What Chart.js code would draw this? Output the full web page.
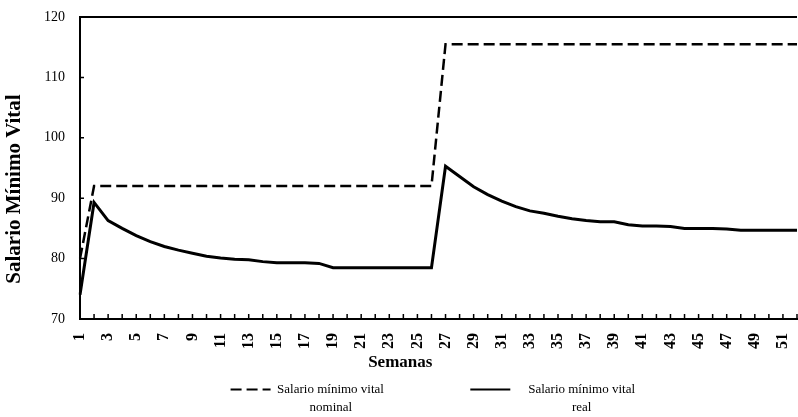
<!DOCTYPE html>
<html>
<head>
<meta charset="utf-8">
<script src="https://cdn.jsdelivr.net/npm/chart.js@4/dist/chart.umd.min.js"></script>
<style>
  html, body { margin: 0; padding: 0; background: #fff; }
  #grafico { width: 798px; height: 417px; }
</style>
</head>
<body>
<div id="grafico"><canvas id="grafico-salario"></canvas></div>
<script>
// Semanas (eje x)
const semanas = ['1','2','3','4','5','6','7','8','9','10','11','12','13','14','15','16','17','18','19','20',
                 '21','22','23','24','25','26','27','28','29','30','31','32','33','34','35','36','37','38','39','40',
                 '41','42','43','44','45','46','47','48','49','50','51','52'];

// Salario mínimo vital nominal
const nominal = [80, 92, 92, 92, 92, 92, 92, 92, 92, 92, 92, 92, 92, 92, 92, 92, 92, 92, 92, 92,
                 92, 92, 92, 92, 92, 92, 115.5, 115.5, 115.5, 115.5, 115.5, 115.5, 115.5, 115.5, 115.5, 115.5, 115.5, 115.5, 115.5, 115.5,
                 115.5, 115.5, 115.5, 115.5, 115.5, 115.5, 115.5, 115.5, 115.5, 115.5, 115.5, 115.5];

// Salario mínimo vital real
const real = [74, 89.3, 86.3, 85.0, 83.8, 82.8, 82.0, 81.4, 80.9, 80.4, 80.1, 79.9, 79.8, 79.5, 79.3, 79.3, 79.3, 79.2, 78.5, 78.5,
              78.5, 78.5, 78.5, 78.5, 78.5, 78.5, 95.3, 93.6, 91.9, 90.6, 89.5, 88.6, 87.9, 87.5, 87.0, 86.6, 86.3, 86.1, 86.1, 85.6,
              85.4, 85.4, 85.3, 85.0, 85.0, 85.0, 84.9, 84.7, 84.7, 84.7, 84.7, 84.7];

// leyenda en dos renglones (el segundo centrado con espacios)
const leyendaNominal = ['Salario mínimo vital', '          nominal'];
const leyendaReal = ['Salario mínimo vital', 'real'];

const fuente = "'Liberation Serif', 'Times New Roman', serif";

// marcas cortas hacia dentro en ambos ejes
const marcasInternas = {
    id: 'marcasInternas',
    afterDraw(chart) {
        const { ctx, chartArea, scales: { x, y } } = chart;
        ctx.save();
        ctx.strokeStyle = '#000';
        ctx.lineWidth = 1.5;
        ctx.beginPath();
        x.ticks.forEach((t, i) => {
            const px = x.getPixelForTick(i);
            ctx.moveTo(px, chartArea.bottom);
            ctx.lineTo(px, chartArea.bottom - 5);
        });
        y.ticks.forEach((t, i) => {
            const py = y.getPixelForTick(i);
            ctx.moveTo(chartArea.left, py);
            ctx.lineTo(chartArea.left + 4, py);
        });
        ctx.stroke();
        ctx.restore();
    }
};

// la leyenda recorta su caja; se alarga hasta el borde para que se vea el segundo renglón
const leyendaSinRecorte = {
    id: 'leyendaSinRecorte',
    afterLayout(chart) {
        if (chart.legend) chart.legend.bottom = chart.height;
    }
};

new Chart(document.getElementById('grafico-salario'), {
    type: 'line',
    data: {
        labels: semanas,
        datasets: [
            {
                label: 'Salario mínimo vital nominal',
                data: nominal,
                borderColor: '#000',
                borderWidth: 2.5,
                borderDash: [11, 5],
                pointRadius: 0,
                tension: 0
            },
            {
                label: 'Salario mínimo vital real',
                data: real,
                borderColor: '#000',
                borderWidth: 3,
                pointRadius: 0,
                tension: 0
            }
        ]
    },
    options: {
        responsive: true,
        maintainAspectRatio: false,
        animation: false,
        layout: { padding: { top: 17, right: 1, left: 0, bottom: 11 } },
        plugins: {
            tooltip: { enabled: false },
            legend: {
                position: 'bottom',
                fullSize: false,
                labels: {
                    usePointStyle: true,
                    pointStyle: 'line',
                    pointStyleWidth: 40,
                    padding: 8,
                    color: '#000',
                    font: { family: fuente, size: 13, lineHeight: 1.4 },
                    generateLabels(chart) {
                        const items = Chart.defaults.plugins.legend.labels.generateLabels(chart);
                        items[0].text = leyendaNominal;
                        items[0].textAlign = 'left';
                        items[1].text = leyendaReal;
                        items[1].textAlign = 'center';
                        items.forEach((it, i) => {
                            const ds = chart.data.datasets[i];
                            it.lineDash = ds.borderDash || [];
                            it.lineWidth = 2;
                            it.strokeStyle = '#000';
                        });
                        return items;
                    }
                }
            }
        },
        scales: {
            x: {
                offset: false,
                grid: { display: false, drawTicks: false },
                border: { display: true, color: '#000', width: 2 },
                ticks: {
                    autoSkip: false,
                    maxRotation: 90,
                    minRotation: 90,
                    padding: 14,
                    color: '#000',
                    font: { family: fuente, size: 16, weight: 'bold' },
                    callback: (v, i) => (i % 2 === 0 ? semanas[i] : '')
                },
                title: {
                    display: true,
                    text: 'Semanas' + ' '.repeat(18),
                    color: '#000',
                    font: { family: fuente, size: 17, weight: 'bold' },
                    padding: { top: 0, bottom: 2 }
                },
                afterFit(scale) {
                    scale.height = 56;
                    scale.paddingLeft = 0;
                    scale.paddingRight = 0;
                }
            },
            y: {
                min: 70,
                max: 120,
                ticks: {
                    stepSize: 10,
                    padding: 15,
                    color: '#000',
                    font: { family: fuente, size: 14 }
                },
                grid: {
                    drawTicks: false,
                    lineWidth: 2,
                    color: (c) => (c.tick && c.tick.value === 120 ? '#000' : 'rgba(0,0,0,0)')
                },
                border: { display: true, color: '#000', width: 2 },
                title: {
                    display: true,
                    text: 'Salario Mínimo Vital' + ' '.repeat(8),
                    color: '#000',
                    font: { family: fuente, size: 21, weight: 'bold' },
                    padding: { top: 2, bottom: 4 }
                },
                afterFit(scale) {
                    scale.width = 80;
                    scale.paddingTop = 0;
                    scale.paddingBottom = 0;
                }
            }
        }
    },
    plugins: [marcasInternas, leyendaSinRecorte]
});
</script>
</body>
</html>
